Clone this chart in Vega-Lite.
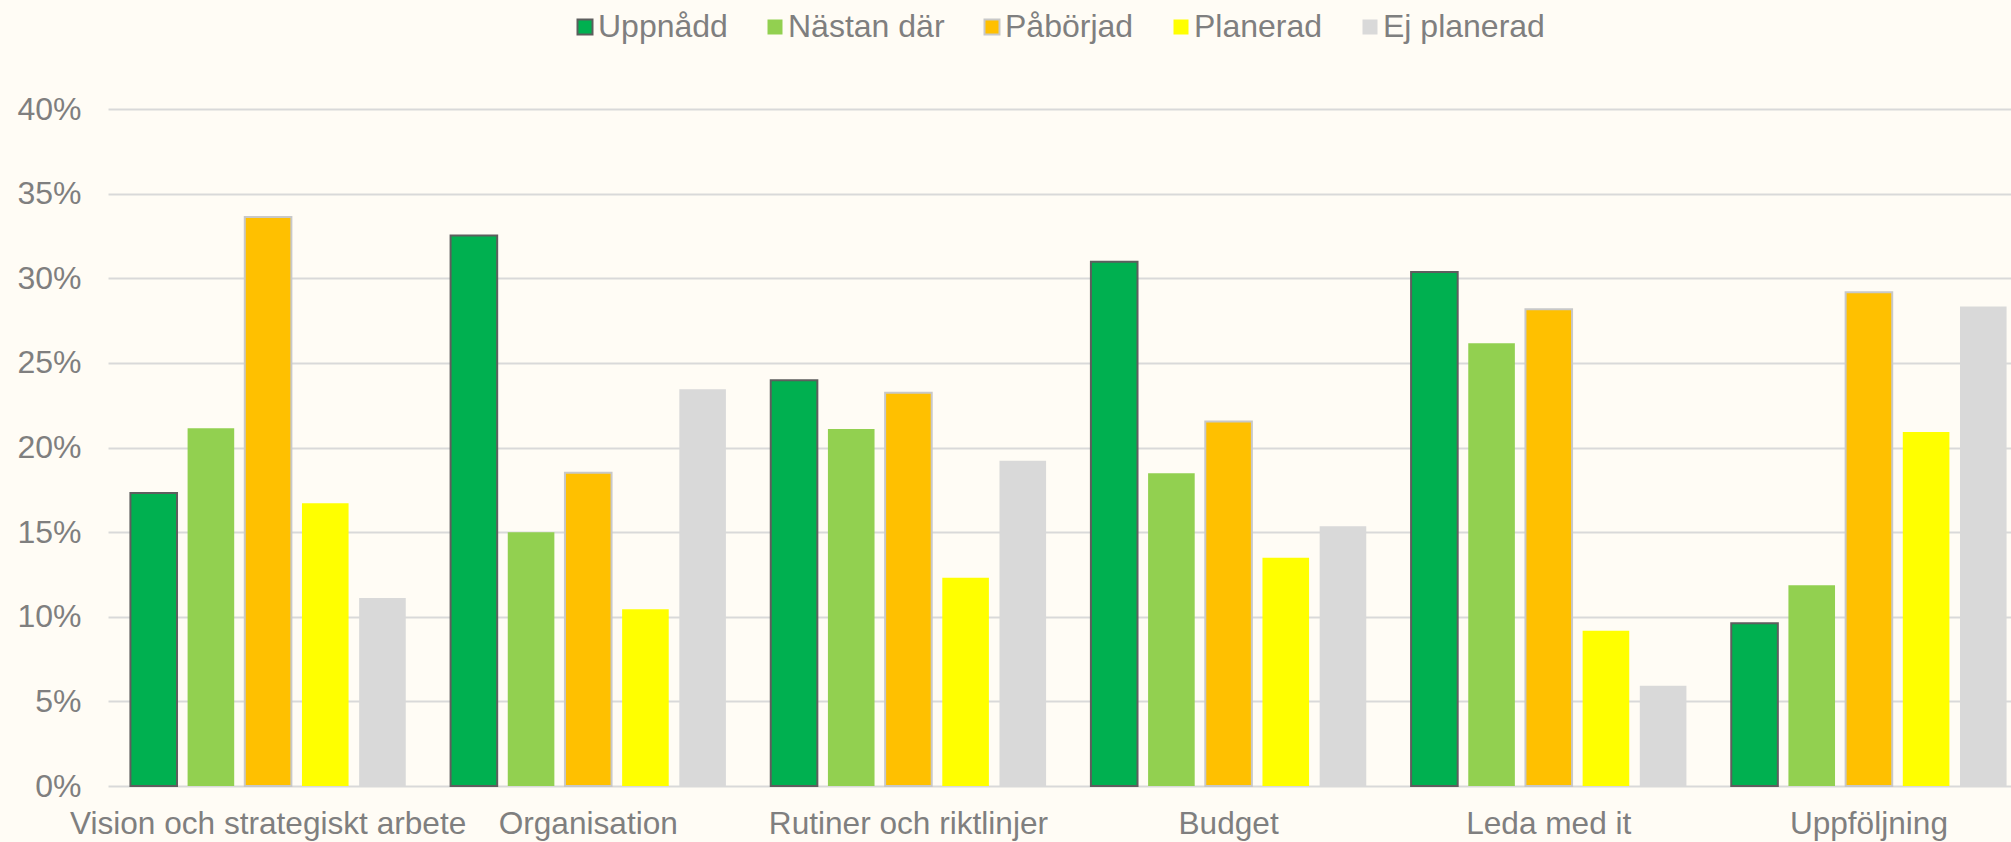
{
  "$schema": "https://vega.github.io/schema/vega-lite/v6.json",
  "autosize": {"type": "none"},
  "width": 1903,
  "height": 677,
  "padding": {"left": 108, "top": 109, "right": 0, "bottom": 56},
  "background": "#FFFCF5",
  "config": {
    "font": "Liberation Sans",
    "view": {"stroke": null}
  },
  "data": {
    "values": [
      {"omrade": "Vision och strategiskt arbete", "status": "Uppnådd", "andel": 0.1731},
      {"omrade": "Vision och strategiskt arbete", "status": "Nästan där", "andel": 0.2113},
      {"omrade": "Vision och strategiskt arbete", "status": "Påbörjad", "andel": 0.3362},
      {"omrade": "Vision och strategiskt arbete", "status": "Planerad", "andel": 0.1671},
      {"omrade": "Vision och strategiskt arbete", "status": "Ej planerad", "andel": 0.1111},
      {"omrade": "Organisation", "status": "Uppnådd", "andel": 0.3252},
      {"omrade": "Organisation", "status": "Nästan där", "andel": 0.1500},
      {"omrade": "Organisation", "status": "Påbörjad", "andel": 0.1851},
      {"omrade": "Organisation", "status": "Planerad", "andel": 0.1044},
      {"omrade": "Organisation", "status": "Ej planerad", "andel": 0.2344},
      {"omrade": "Rutiner och riktlinjer", "status": "Uppnådd", "andel": 0.2398},
      {"omrade": "Rutiner och riktlinjer", "status": "Nästan där", "andel": 0.2110},
      {"omrade": "Rutiner och riktlinjer", "status": "Påbörjad", "andel": 0.2323},
      {"omrade": "Rutiner och riktlinjer", "status": "Planerad", "andel": 0.1231},
      {"omrade": "Rutiner och riktlinjer", "status": "Ej planerad", "andel": 0.1921},
      {"omrade": "Budget", "status": "Uppnådd", "andel": 0.3098},
      {"omrade": "Budget", "status": "Nästan där", "andel": 0.1848},
      {"omrade": "Budget", "status": "Påbörjad", "andel": 0.2153},
      {"omrade": "Budget", "status": "Planerad", "andel": 0.1348},
      {"omrade": "Budget", "status": "Ej planerad", "andel": 0.1535},
      {"omrade": "Leda med it", "status": "Uppnådd", "andel": 0.3037},
      {"omrade": "Leda med it", "status": "Nästan där", "andel": 0.2616},
      {"omrade": "Leda med it", "status": "Påbörjad", "andel": 0.2817},
      {"omrade": "Leda med it", "status": "Planerad", "andel": 0.0917},
      {"omrade": "Leda med it", "status": "Ej planerad", "andel": 0.0592},
      {"omrade": "Uppföljning", "status": "Uppnådd", "andel": 0.0962},
      {"omrade": "Uppföljning", "status": "Nästan där", "andel": 0.1186},
      {"omrade": "Uppföljning", "status": "Påbörjad", "andel": 0.2918},
      {"omrade": "Uppföljning", "status": "Planerad", "andel": 0.2092},
      {"omrade": "Uppföljning", "status": "Ej planerad", "andel": 0.2833}
    ]
  },
  "mark": {"type": "bar", "strokeWidth": 2},
  "encoding": {
    "x": {
      "field": "omrade",
      "type": "nominal",
      "sort": null,
      "scale": {"paddingInner": 0.14, "paddingOuter": 0.07, "range": [0, 1921]},
      "axis": {
        "title": null,
        "labelAngle": 0,
        "labelFontSize": 31.6,
        "labelColor": "#7F7F7F",
        "labelPadding": 22,
        "ticks": false,
        "domain": false,
        "grid": false,
        "labelLimit": 0
      }
    },
    "xOffset": {
      "field": "status",
      "type": "nominal",
      "scale": {
        "domain": ["Uppnådd", "Nästan där", "Påbörjad", "Planerad", "Ej planerad"],
        "paddingInner": 0.185,
        "paddingOuter": 0
      }
    },
    "y": {
      "field": "andel",
      "type": "quantitative",
      "scale": {"domain": [0, 0.4], "nice": false},
      "axis": {
        "title": null,
        "values": [0, 0.05, 0.1, 0.15, 0.2, 0.25, 0.3, 0.35, 0.4],
        "format": ".0%",
        "labelFontSize": 32,
        "labelColor": "#7F7F7F",
        "labelPadding": 27,
        "ticks": false,
        "domain": false,
        "gridColor": "#D9D9D9",
        "gridWidth": 2
      }
    },
    "color": {
      "field": "status",
      "type": "nominal",
      "scale": {
        "domain": ["Uppnådd", "Nästan där", "Påbörjad", "Planerad", "Ej planerad"],
        "range": ["#00B050", "#92D050", "#FFC000", "#FFFF00", "#D9D9D9"]
      },
      "legend": {
        "title": null,
        "orient": "none",
        "direction": "horizontal",
        "legendX": 461,
        "legendY": -98,
        "symbolType": "square",
        "symbolSize": 225,
        "symbolStrokeWidth": 2,
        "labelFontSize": 32,
        "labelColor": "#7F7F7F",
        "labelOffset": -3,
        "labelLimit": 0,
        "columnPadding": 31,
        "padding": 0
      }
    },
    "stroke": {
      "field": "status",
      "type": "nominal",
      "scale": {
        "domain": ["Uppnådd", "Nästan där", "Påbörjad", "Planerad", "Ej planerad"],
        "range": ["#5E5E5E", "transparent", "#C8C8C8", "transparent", "transparent"]
      },
      "legend": null
    }
  }
}
